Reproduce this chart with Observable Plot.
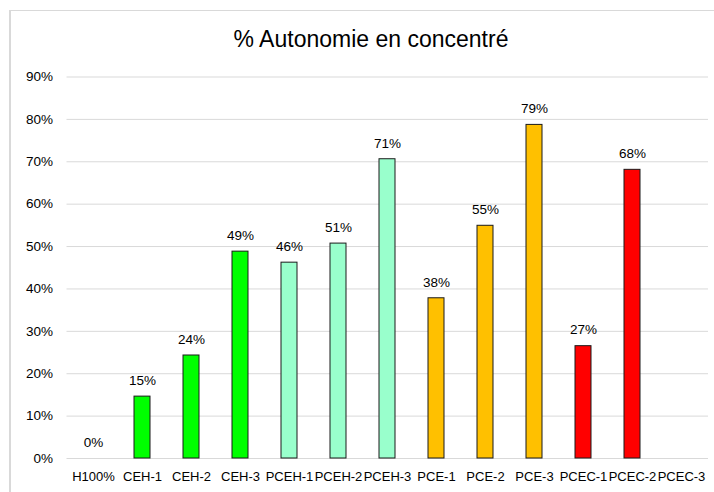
<!DOCTYPE html>
<html>
<head>
<meta charset="utf-8">
<script src="https://cdn.jsdelivr.net/npm/d3@7"></script>
<script src="https://cdn.jsdelivr.net/npm/@observablehq/plot@0.6"></script>
<style>
  html, body { margin: 0; padding: 0; background: #fff; }
  #wrap { position: relative; width: 714px; height: 492px; overflow: hidden; font-family: "Liberation Sans", Arial, sans-serif; }
  #frame { position: absolute; left: 9px; top: 10px; width: 720px; height: 500px; border-left: 2px solid #d9d9d9; border-top: 1px solid #d9d9d9; box-sizing: border-box; }
  #title { position: absolute; left: 0; width: 742px; top: 26px; text-align: center; font-size: 23px; color: #000; }
  #chart { position: absolute; left: 0; top: 0; }
</style>
</head>
<body>
<div id="wrap">
  <div id="frame"></div>
  <div id="chart"></div>
  <div id="title">% Autonomie en concentré</div>
</div>
<script>
const categories = ["H100%", "CEH-1", "CEH-2", "CEH-3", "PCEH-1", "PCEH-2", "PCEH-3", "PCE-1", "PCE-2", "PCE-3", "PCEC-1", "PCEC-2", "PCEC-3"];
const values = [0, 0.146, 0.243, 0.488, 0.462, 0.507, 0.706, 0.378, 0.549, 0.787, 0.265, 0.681, null];
const colors = ["#00ff00", "#00ff00", "#00ff00", "#00ff00", "#99ffcc", "#99ffcc", "#99ffcc", "#ffc000", "#ffc000", "#ffc000", "#ff0000", "#ff0000", "#ff0000"];
const yTicks = [0, 0.1, 0.2, 0.3, 0.4, 0.5, 0.6, 0.7, 0.8, 0.9];

const data = categories.map((c, i) => ({cat: c, value: values[i], color: colors[i]}));
const withValue = data.filter(d => d.value !== null);

const pct = d3.format(".0%");

const chart = Plot.plot({
  width: 714,
  height: 492,
  marginLeft: 66.5,
  marginRight: 6,
  marginTop: 76.5,
  marginBottom: 34,
  style: {fontFamily: "Liberation Sans, Arial, sans-serif", fontSize: "13px", color: "#000", background: "transparent"},
  x: {domain: categories, paddingInner: 0.68, paddingOuter: 0.34, label: null, axis: null},
  y: {domain: [0, 0.9], label: null, axis: null},
  marks: [
    Plot.gridY(yTicks, {stroke: "#d9d9d9", strokeOpacity: 1, strokeWidth: 1}),
    Plot.barY(withValue.filter(d => d.value > 0), {x: "cat", y: "value", fill: "color", stroke: "#1a1a1a", strokeWidth: 1}),
    Plot.text(withValue, {x: "cat", y: "value", text: d => pct(d.value), dy: -16, fontSize: 13.5, fill: "#000"}),
    Plot.text(yTicks, {y: d => d, text: d => pct(d), frameAnchor: "left", textAnchor: "end", dx: -14, fontSize: 13.5, fill: "#000"}),
    Plot.text(categories, {x: d => d, text: d => d, frameAnchor: "bottom", dy: 22, fontSize: 13, fill: "#000"})
  ]
});
document.getElementById("chart").appendChild(chart);
</script>
</body>
</html>
